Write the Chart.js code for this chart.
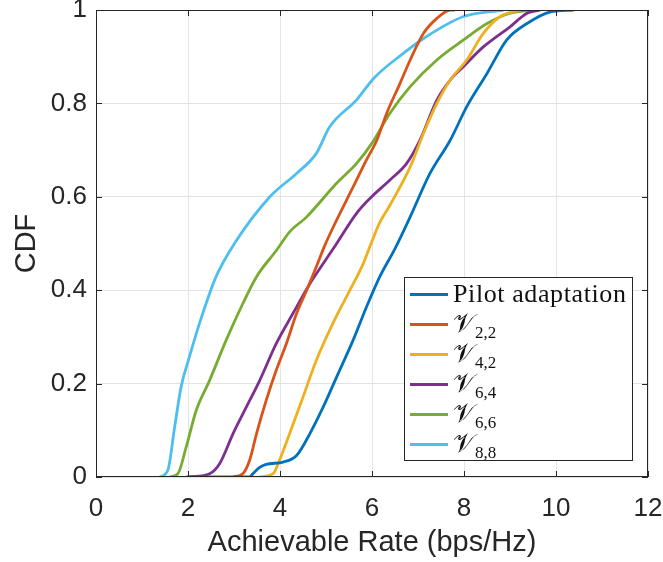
<!DOCTYPE html>
<html>
<head>
<meta charset="utf-8">
<script src="https://cdn.jsdelivr.net/npm/chart.js@4.4.1/dist/chart.umd.min.js"></script>
<style>
  html, body { margin: 0; padding: 0; background: #fff; }
  #wrap { position: relative; width: 663px; height: 562px; overflow: hidden; }
  #legend {
    position: absolute; left: 404px; top: 277px; width: 229px; height: 184px;
    border: 1px solid #262626; background: #fff; box-sizing: border-box;
    font-family: "Liberation Serif", "DejaVu Serif", serif; color: #111;
  }
  .row { position: absolute; left: 0; height: 30px; display: flex; align-items: center; }
  .sw { width: 38px; height: 3px; margin-left: 5px; margin-right: 5px; }
  .lab { font-size: 26px; white-space: nowrap; line-height: 30px; letter-spacing: 0.6px; }
  .cal { font-size: 26px; letter-spacing: 0; }
  .lab sub { font-size: 17px; vertical-align: -6px; line-height: 0; letter-spacing: 0; }
</style>
</head>
<body>
<div id="wrap">
  <canvas id="cdfChart" width="663" height="562"></canvas>
  <div id="legend"></div>
</div>
<script>
// series labels and colours
const seriesNames = ['Pilot adaptation', 'V2,2', 'V4,2', 'V6,4', 'V6,6', 'V8,8'];
const seriesSubs = [null, '2,2', '4,2', '6,4', '6,6', '8,8'];
const seriesColors = ['#0072BD', '#D95319', '#EDB120', '#7E2F8E', '#77AC30', '#4DBEEE'];

// CDF curves: rate (bps/Hz) and cumulative probability
const pilotX = [1.96, 3.34, 3.41, 3.55, 3.70, 4.07, 4.36, 4.65, 4.94, 5.23, 5.59, 5.88, 6.17, 6.50, 6.83, 7.26, 7.70, 8.06, 8.50, 8.93, 9.37, 9.88, 10.38];
const pilotY = [0, 0, 0.007, 0.02, 0.027, 0.032, 0.046, 0.093, 0.15, 0.214, 0.293, 0.364, 0.429, 0.489, 0.557, 0.65, 0.721, 0.793, 0.864, 0.936, 0.971, 0.996, 1.0];

const v22X = [2.98, 3.19, 3.34, 3.49, 3.70, 3.92, 4.14, 4.36, 4.58, 4.79, 4.97, 5.23, 5.59, 5.88, 6.10, 6.32, 6.61, 6.83, 7.12, 7.41, 7.70, 7.80];
const v22Y = [0, 0.007, 0.036, 0.093, 0.164, 0.229, 0.286, 0.35, 0.40, 0.45, 0.495, 0.55, 0.621, 0.679, 0.72, 0.779, 0.843, 0.893, 0.95, 0.982, 1.0, 1.0];

const v42X = [3.56, 3.85, 3.99, 4.21, 4.50, 4.79, 5.15, 5.52, 5.81, 5.98, 6.17, 6.39, 6.83, 7.12, 7.41, 7.70, 8.06, 8.42, 8.79, 9.22];
const v42Y = [0, 0.007, 0.036, 0.093, 0.171, 0.25, 0.329, 0.40, 0.457, 0.5, 0.545, 0.582, 0.664, 0.736, 0.80, 0.85, 0.893, 0.95, 0.986, 1.0];

const v64X = [2.03, 2.47, 2.69, 2.98, 3.27, 3.56, 3.92, 4.28, 4.65, 4.94, 5.20, 5.66, 5.95, 6.39, 6.75, 7.04, 7.41, 7.70, 7.99, 8.42, 9.00, 9.37, 9.66];
const v64Y = [0, 0.007, 0.029, 0.093, 0.15, 0.207, 0.286, 0.35, 0.414, 0.457, 0.495, 0.564, 0.596, 0.636, 0.671, 0.721, 0.807, 0.85, 0.879, 0.921, 0.964, 0.993, 1.0];

const v66X = [1.60, 1.78, 1.96, 2.18, 2.47, 2.83, 3.19, 3.49, 3.92, 4.21, 4.58, 5.23, 5.66, 6.00, 6.39, 6.83, 7.41, 7.99, 8.50, 9.00, 9.51];
const v66Y = [0, 0.007, 0.064, 0.143, 0.207, 0.293, 0.371, 0.429, 0.485, 0.525, 0.557, 0.629, 0.671, 0.715, 0.779, 0.836, 0.893, 0.936, 0.971, 0.993, 1.0];

const v88X = [1.38, 1.56, 1.71, 1.85, 2.03, 2.25, 2.61, 3.01, 3.78, 4.36, 4.79, 5.08, 5.66, 6.05, 6.68, 7.12, 7.99, 8.86];
const v88Y = [0, 0.014, 0.107, 0.193, 0.257, 0.329, 0.429, 0.5, 0.6, 0.65, 0.693, 0.75, 0.807, 0.855, 0.907, 0.939, 0.986, 1.0];

const xTicks = [0, 2, 4, 6, 8, 10, 12];
const yTicks = [0, 0.2, 0.4, 0.6, 0.8, 1];

const curveX = [pilotX, v22X, v42X, v64X, v66X, v88X];
const curveY = [pilotY, v22Y, v42Y, v64Y, v66Y, v88Y];

function toPoints(xs, ys) {
    return xs.map((x, i) => ({ x: x, y: ys[i] }));
}

const axisColor = '#262626';
const fontFamily = 'Liberation Sans, Arial, Helvetica, sans-serif';

// box around the plot with inward tick marks, like the original figure
const boxPlugin = {
    id: 'boxTicks',
    afterDraw(chart) {
        const { ctx, chartArea: a, scales } = chart;
        ctx.save();
        ctx.strokeStyle = axisColor;
        ctx.lineWidth = 1;
        ctx.strokeRect(a.left + 0.5, a.top + 0.5, a.right - a.left - 1, a.bottom - a.top - 1);
        const len = 6;
        ctx.beginPath();
        xTicks.forEach(v => {
            const px = Math.round(scales.x.getPixelForValue(v)) + 0.5;
            ctx.moveTo(px, a.bottom); ctx.lineTo(px, a.bottom - len);
            ctx.moveTo(px, a.top); ctx.lineTo(px, a.top + len);
        });
        yTicks.forEach(v => {
            const py = Math.round(scales.y.getPixelForValue(v)) + 0.5;
            ctx.moveTo(a.left, py); ctx.lineTo(a.left + len, py);
            ctx.moveTo(a.right, py); ctx.lineTo(a.right - len, py);
        });
        ctx.stroke();
        ctx.restore();
    }
};

const ctx = document.getElementById('cdfChart').getContext('2d');
const cdfChart = new Chart(ctx, {
    type: 'line',
    data: {
        datasets: seriesNames.map((name, i) => ({
            label: name,
            data: toPoints(curveX[i], curveY[i]),
            borderColor: seriesColors[i],
            backgroundColor: seriesColors[i],
            borderWidth: 2.8,
            pointRadius: 0,
            cubicInterpolationMode: 'monotone',
            fill: false
        }))
    },
    options: {
        responsive: false,
        animation: false,
        devicePixelRatio: 1,
        layout: {
            padding: { top: 10, right: 15, left: 0, bottom: 0 }
        },
        scales: {
            x: {
                type: 'linear',
                min: 0,
                max: 12,
                afterBuildTicks: (scale) => { scale.ticks = xTicks.map(v => ({ value: v })); },
                afterFit: (scale) => {
                    scale.height = 85;
                    scale.paddingLeft = 0;
                    scale.paddingRight = 0;
                },
                grid: { color: '#e3e3e3', drawTicks: false },
                border: { display: false },
                ticks: {
                    color: axisColor,
                    padding: 16,
                    maxRotation: 0,
                    font: { family: fontFamily, size: 26 }
                },
                title: {
                    display: true,
                    text: 'Achievable Rate (bps/Hz)',
                    color: axisColor,
                    padding: { top: 0, bottom: 2 },
                    font: { family: fontFamily, size: 29 }
                }
            },
            y: {
                type: 'linear',
                min: 0,
                max: 1,
                afterBuildTicks: (scale) => { scale.ticks = yTicks.map(v => ({ value: v })); },
                afterFit: (scale) => {
                    scale.width = 96;
                    scale.paddingTop = 0;
                    scale.paddingBottom = 0;
                },
                grid: { color: '#e3e3e3', drawTicks: false },
                border: { display: false },
                ticks: {
                    color: axisColor,
                    padding: 9,
                    callback: (v) => String(Math.round(v * 10) / 10),
                    font: { family: fontFamily, size: 26 }
                },
                title: {
                    display: true,
                    text: 'CDF',
                    color: axisColor,
                    padding: { top: 10, bottom: 0 },
                    font: { family: fontFamily, size: 29 }
                }
            }
        },
        plugins: {
            legend: { display: false },
            tooltip: { enabled: false }
        }
    },
    plugins: [boxPlugin]
});

// legend drawn as html so the subscripts stay real text
const legendEl = document.getElementById('legend');
seriesNames.forEach((name, i) => {
    const row = document.createElement('div');
    row.className = 'row';
    row.style.top = (1 + i * 30) + 'px';
    const sw = document.createElement('div');
    sw.className = 'sw';
    sw.style.background = seriesColors[i];
    const lab = document.createElement('span');
    lab.className = 'lab';
    if (seriesSubs[i]) {
        lab.innerHTML = '<span class="cal">\u{1D4B1}</span><sub>' + seriesSubs[i] + '</sub>';
    } else {
        lab.textContent = name;
    }
    row.appendChild(sw);
    row.appendChild(lab);
    legendEl.appendChild(row);
});
</script>
</body>
</html>
